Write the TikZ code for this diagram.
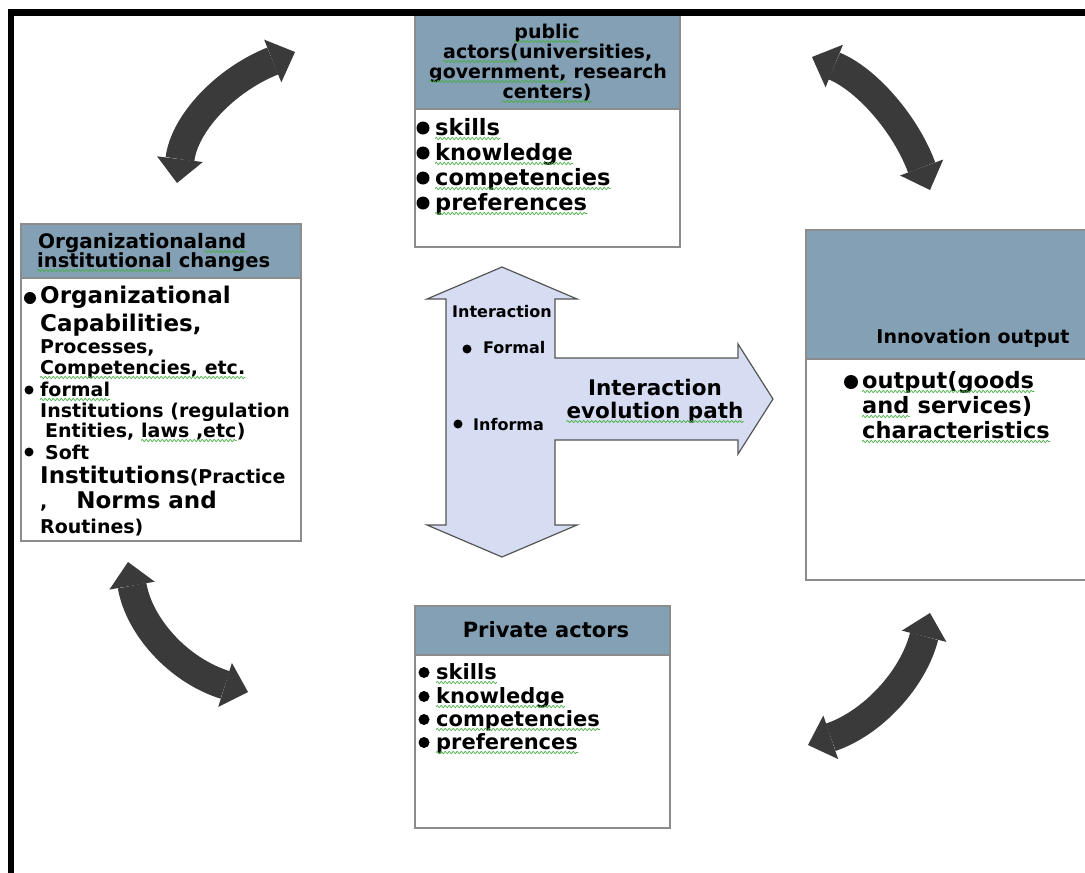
\documentclass[tikz,border=0pt]{standalone}
\usepackage{fontspec}
\setmainfont{DejaVu Sans}
\usetikzlibrary{arrows.meta,decorations.pathmorphing}

\definecolor{headfill}{RGB}{131,160,180}
\definecolor{boxline}{RGB}{140,140,140}
\definecolor{tfill}{RGB}{214,221,242}
\definecolor{tline}{RGB}{85,85,85}
\definecolor{arcdark}{RGB}{58,58,58}
\definecolor{squiggreen}{RGB}{70,175,70}

\newcommand\fsz[1]{\fontsize{#1}{#1}\selectfont\bfseries}
% wavy spell-check mark under a text node
\newcommand\squ[1]{\draw[squig] ([yshift=-3.5pt]#1.base west) -- ([yshift=-3.5pt]#1.base east);}

\begin{document}
\begin{tikzpicture}[x=1pt,y=-1pt,
  box/.style={draw=boxline, line width=1.5pt, fill=white, inner sep=0pt, anchor=north west},
  headbox/.style={box, fill=headfill},
  txt/.style={inner sep=0pt, anchor=base west},
  ctxt/.style={inner sep=0pt, anchor=base},
  squig/.style={draw=squiggreen, line width=0.7pt, decorate,
    decoration={snake, amplitude=1.1pt, segment length=4pt}},
  twoway/.style={draw=arcdark, line width=29pt,
    {Triangle[width=46pt,length=24pt,line width=0pt]}-{Triangle[width=46pt,length=24pt,line width=0pt]}},
  tshape/.style={draw=tline, line width=1.2pt, fill=tfill, line join=miter}
]
\clip (0,0) rectangle (1085,873);
\fill[white] (0,0) rectangle (1085,873);

% ---------- boxes ----------
\node[box, minimum width=265pt, minimum height=232pt] (pub) at (414,14) {};
\node[headbox, minimum width=265pt, minimum height=94pt] (pubh) at (414,14) {};

\node[box, minimum width=280pt, minimum height=317pt] (org) at (20,223) {};
\node[headbox, minimum width=280pt, minimum height=54pt] (orgh) at (20,223) {};

\node[box, minimum width=290pt, minimum height=350pt] (inn) at (805,229) {};
\node[headbox, minimum width=290pt, minimum height=129pt] (innh) at (805,229) {};

\node[box, minimum width=255pt, minimum height=222pt] (priv) at (414,605) {};
\node[headbox, minimum width=255pt, minimum height=49pt] (privh) at (414,605) {};

% ---------- frame ----------
\draw[line width=6.5pt, line join=miter] (11.2,885) -- (11.2,12.7) -- (1095,12.7);

% ---------- public actors ----------
\node[ctxt, font=\fsz{19}] (p1) at (547,38) {public};
\node[txt, font=\fsz{19}] (p2a) at (443,58) {actors(};
\node[txt, font=\fsz{19}] (p2b) at (p2a.base east) {universities,};
\node[txt, font=\fsz{19}] (p3a) at (429,78) {government,};
\node[txt, font=\fsz{19}] (p3b) at (p3a.base east) {\ research};
\node[ctxt, font=\fsz{19}] (p4) at (547,98) {centers)};
\squ{p1}\squ{p2a}\squ{p3a}\squ{p4}

\foreach \n/\w/\y in {pa/skills/135, pb/knowledge/160, pc/competencies/185, pd/preferences/210}{
  \fill (423,\y-7) circle (6.5pt);
  \node[txt, font=\fsz{22.5}] (\n) at (435,\y) {\w};
  \squ{\n}
}

% ---------- organizational box ----------
\node[txt, font=\fsz{20}] (oh1a) at (38,248) {Organizational};
\node[txt, font=\fsz{20}] (oh1b) at (oh1a.base east) {and};
\node[txt, font=\fsz{19.5}] (oh2a) at (37,267) {institutional};
\node[txt, font=\fsz{19.5}] (oh2b) at (oh2a.base east) {\ changes};
\squ{oh1b}\squ{oh2a}

\fill (30,298) circle (6pt);
\node[txt, font=\fsz{23}] (o1) at (40,303) {Organizational};
\node[txt, font=\fsz{23}] (o2) at (40,331) {Capabilities,};
\node[txt, font=\fsz{19}] (o3) at (40,353) {Processes,};
\node[txt, font=\fsz{19}] (o4) at (40,374) {Competencies, etc.};
\squ{o4}
\fill (29,390) circle (4.5pt);
\node[txt, font=\fsz{19}] (o5) at (40,396) {formal};
\squ{o5}
\node[txt, font=\fsz{19}] (o6) at (40,417) {Institutions (regulation};
\node[txt, font=\fsz{19}] (o7a) at (45,437) {Entities,};
\node[txt, font=\fsz{19}] (o7b) at ([xshift=6.5pt]o7a.base east) {laws ,etc};
\node[txt, font=\fsz{19}] (o7c) at (o7b.base east) {)};
\squ{o7b}
\fill (29,452) circle (4.5pt);
\node[txt, font=\fsz{19}] (o8) at (45,459) {Soft};
\node[txt, font=\fsz{23}] (o9) at (40,483) {Institutions{\fsz{19}(Practice}};
\node[txt, font=\fsz{19}] (o10) at (40,508) {,\hspace*{29pt}{\fsz{23}Norms and}};
\node[txt, font=\fsz{19}] (o11) at (40,533) {Routines)};

% ---------- innovation output ----------
\node[ctxt, font=\fsz{19}] (ih) at (973,343) {Innovation output};
\fill (851,382) circle (7pt);
\node[txt, font=\fsz{22.5}] (i1) at (862,388) {output(goods};
\node[txt, font=\fsz{22.5}] (i2a) at (862,413) {and};
\node[txt, font=\fsz{22.5}] (i2b) at (i2a.base east) {\ services)};
\node[txt, font=\fsz{22.5}] (i3) at (862,438) {characteristics};
\squ{i1}\squ{i2a}\squ{i3}

% ---------- private actors ----------
\node[ctxt, font=\fsz{21}] (vh) at (546,637) {Private actors};
\foreach \n/\w/\y in {va/skills/679, vb/knowledge/703, vc/competencies/726, vd/preferences/749}{
  \fill (424,\y-6.5) circle (5.5pt);
  \node[txt, font=\fsz{21}] (\n) at (436,\y) {\w};
  \squ{\n}
}

% ---------- interaction arrow ----------
\draw[tshape] (502,267) -- (577,299) -- (555,299) -- (555,358) -- (738,358) -- (738,344)
  -- (773,399) -- (738,454) -- (738,440) -- (555,440) -- (555,525) -- (577,525)
  -- (502,557) -- (427,525) -- (446,525) -- (446,299) -- (427,299) -- cycle;
\node[ctxt, font=\fsz{16}] (c1) at (502,317) {Interaction};
\fill (467,349) circle (4.5pt);
\node[txt, font=\fsz{16}] (c2) at (483,353) {Formal};
\fill (458,424) circle (4.5pt);
\node[txt, font=\fsz{16}] (c3) at (473,430) {Informa};
\node[ctxt, font=\fsz{21.5}] (c4) at (655,395) {Interaction};
\node[ctxt, font=\fsz{21.5}] (c5) at (655,418) {evolution path};
\squ{c5}

% ---------- two-way curved arrows ----------
\coordinate (tlA) at (295,52);  \coordinate (tlB) at (177,183);
\coordinate (trA) at (812,57);  \coordinate (trB) at (930,190);
\coordinate (blA) at (128,562); \coordinate (blB) at (248,692);
\coordinate (brA) at (930,613); \coordinate (brB) at (808,745);
\draw[twoway] (tlA) .. controls (223.7,80.7) and (184.3,124.3) .. (tlB);
\draw[twoway] (trA) .. controls (866,79) and (905.3,123.3) .. (trB);
\draw[twoway] (blA) .. controls (139.3,627.3) and (179.3,670.7) .. (blB);
\draw[twoway] (brA) .. controls (913.3,679) and (872.7,723) .. (brB);
\end{tikzpicture}
\end{document}
